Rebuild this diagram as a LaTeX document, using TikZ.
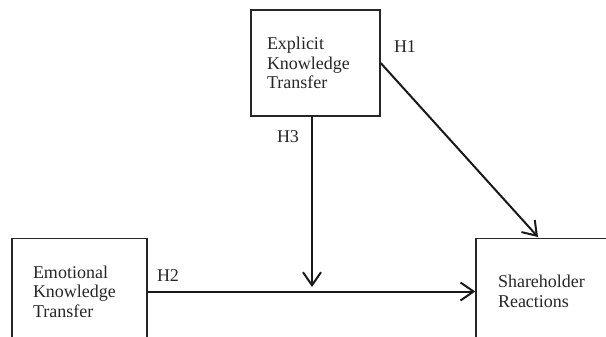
\documentclass[tikz,border=0pt]{standalone}
\usepackage{fontspec}
\setmainfont{Liberation Serif}
\usetikzlibrary{arrows.meta}
\begin{document}
\begin{tikzpicture}[x=1pt,y=-1pt,
  box/.style={draw=black!85, line width=1.4pt, rectangle, align=left, anchor=center,
    font=\fontsize{18}{19.5}\selectfont, text=black!85, inner ysep=0pt},
  lab/.style={font=\fontsize{18}{19.5}\selectfont, text=black!85, inner sep=0pt},
  conn/.style={line width=2pt, draw=black!90, -{Straight Barb[length=13pt,width=18pt,line width=2pt]}}]
\useasboundingbox (0,0) rectangle (606,337);
\clip (0,0) rectangle (606,337);
\node[box, minimum width=129, minimum height=106, inner xsep=16, text width=97] (ekt) at (315.5,63) {Explicit\\Knowledge\\Transfer};
\node[box, minimum width=135, minimum height=106, inner xsep=21, text width=93] (emo) at (79.5,291.5) {Emotional\\Knowledge\\Transfer};
\node[box, minimum width=140, minimum height=106, inner xsep=22, text width=96] (sh) at (546,291.5) {Shareholder\\Reactions};
\node[lab] (h1) at (405,47) {H1};
\node[lab] (h2) at (168,276) {H2};
\node[lab] (h3) at (288,137) {H3};
\coordinate (h1end) at (538,237);
\coordinate (h3start) at (312,116);
\coordinate (h3end) at (312,287);
\draw[conn] (ekt.east) -- (h1end);
\draw[conn] (h3start) -- (h3end);
\draw[conn] (emo.east) -- (sh.west);
\end{tikzpicture}
\end{document}
